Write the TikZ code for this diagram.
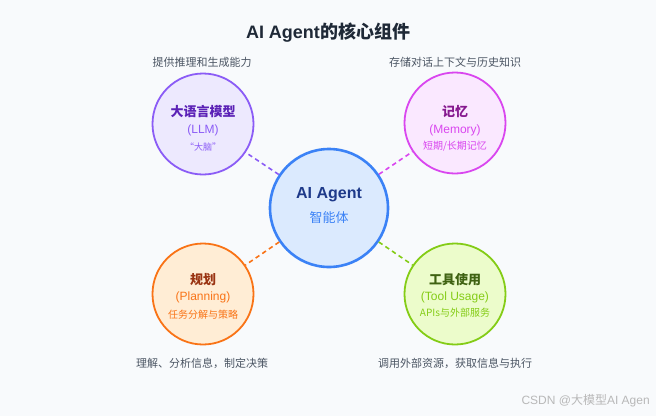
\documentclass[tikz,border=0pt]{standalone}
\usepackage{fontspec}
\setmainfont{Liberation Sans}
\newfontfamily\cjk{Noto Sans CJK SC}
\definecolor{bgc}{HTML}{F8FAFC}
\definecolor{titlec}{HTML}{1F2937}
\definecolor{descc}{HTML}{4B5563}
\definecolor{cstroke}{HTML}{3B82F6}\definecolor{cfill}{HTML}{DBEAFE}\definecolor{ctext}{HTML}{1E3A8A}
\definecolor{lstroke}{HTML}{8B5CF6}\definecolor{lfill}{HTML}{EDE9FE}\definecolor{ltext}{HTML}{5B21B6}
\definecolor{mstroke}{HTML}{D946EF}\definecolor{mfill}{HTML}{FAE8FF}\definecolor{mtext}{HTML}{86198F}
\definecolor{pstroke}{HTML}{F97316}\definecolor{pfill}{HTML}{FFEDD5}\definecolor{ptext}{HTML}{9A3412}
\definecolor{tstroke}{HTML}{84CC16}\definecolor{tfill}{HTML}{ECFCCB}\definecolor{ttext}{HTML}{3F6212}
\begin{document}
\begin{tikzpicture}[x=1pt,y=-1pt,
  outer/.style={circle,minimum size=101pt,inner sep=0pt,line width=1.8pt},
  inner/.style={circle,minimum size=118pt,inner sep=0pt,line width=2.6pt},
  conn/.style={dash pattern=on 4.5pt off 3.5pt,line width=1.6pt},
  ntitle/.style={font=\cjk\fontsize{13}{15}\selectfont\bfseries},
  nsub/.style={font=\fontsize{12}{14}\selectfont},
  nsmall/.style={font=\cjk\fontsize{10}{12}\selectfont},
  desc/.style={font=\cjk\fontsize{11}{13}\selectfont,text=descc}]
\useasboundingbox[fill=bgc] (0,0) rectangle (656,416);
\node[font=\fontsize{18}{21}\selectfont\bfseries,text=titlec] (title) at (328,33) {AI Agent{\cjk 的核心组件}};
% circles
\node[inner,draw=cstroke,fill=cfill] (agent) at (329,208) {};
\node[outer,draw=lstroke,fill=lfill] (llm) at (203,124) {};
\node[outer,draw=mstroke,fill=mfill] (mem) at (455,123) {};
\node[outer,draw=pstroke,fill=pfill] (plan) at (203,294) {};
\node[outer,draw=tstroke,fill=tfill] (tool) at (455,294) {};
% connectors
\draw[conn,draw=lstroke] (agent) -- (llm);
\draw[conn,draw=mstroke] (agent) -- (mem);
\draw[conn,draw=pstroke] (agent) -- (plan);
\draw[conn,draw=tstroke] (agent) -- (tool);
% center text
\node[font=\fontsize{16}{19}\selectfont\bfseries,text=ctext] (agentt) at (329,195) {AI Agent};
\node[font=\cjk\fontsize{13}{15}\selectfont,text=cstroke] (agents) at (329,218) {智能体};
% llm
\node[ntitle,text=ltext] (llmt) at (203,112) {大语言模型};
\node[nsub,text=lstroke] (llms) at (203,130) {(LLM)};
\node[nsmall,font=\cjk\fontsize{9}{11}\selectfont,text=lstroke] (llmx) at (203,147) {“大脑”};
% memory
\node[ntitle,text=mtext] (memt) at (455,112) {记忆};
\node[nsub,text=mstroke] (mems) at (455,130) {(Memory)};
\node[nsmall,text=mstroke] (memx) at (455,146) {短期/长期记忆};
% planning
\node[ntitle,text=ptext] (plant) at (203,280) {规划};
\node[nsub,text=pstroke] (plans) at (203,297) {(Planning)};
\node[nsmall,text=pstroke] (planx) at (203,315) {任务分解与策略};
% tool
\node[ntitle,text=ttext] (toolt) at (455,280) {工具使用};
\node[nsub,text=tstroke] (tools) at (455,297) {(Tool Usage)};
\node[nsmall,text=tstroke] (toolx) at (455,313) {APIs{\cjk 与外部服务}};
% descriptions
\node[desc] (d1) at (202,62) {提供推理和生成能力};
\node[desc] (d2) at (455,62) {存储对话上下文与历史知识};
\node[desc] (d3) at (202,363) {理解、分析信息，制定决策};
\node[desc] (d4) at (455,363) {调用外部资源，获取信息与执行};
% watermark
\node[font=\fontsize{12}{14}\selectfont,text=black!28,anchor=west] (wm) at (518,401) {CSDN @{\cjk 大模型}AI Agen};
\end{tikzpicture}
\end{document}
